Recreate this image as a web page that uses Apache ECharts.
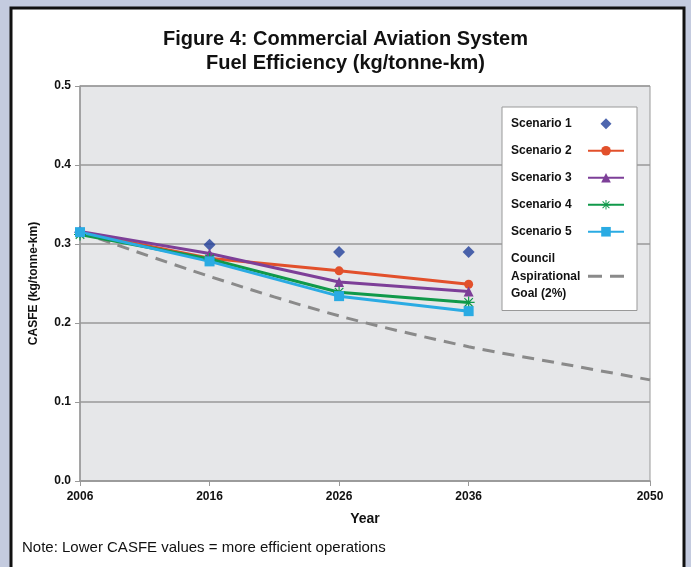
<!DOCTYPE html>
<html>
<head>
<meta charset="utf-8">
<script src="https://cdn.jsdelivr.net/npm/echarts@6/dist/echarts.min.js"></script>
<style>
  html, body { margin: 0; padding: 0; background: #c4cbdf; }
  #chart { width: 691px; height: 567px; }
</style>
</head>
<body>
<div id="chart"></div>
<script>
// values
const years = [2006, 2016, 2026, 2036]
const scenario1 = [0.315, 0.299, 0.290, 0.290]
const scenario2 = [0.315, 0.282, 0.266, 0.249]
const scenario3 = [0.316, 0.288, 0.252, 0.240]
const scenario4 = [0.312, 0.281, 0.239, 0.226]
const scenario5 = [0.315, 0.278, 0.234, 0.215]
const goalYears = [2006, 2016, 2026, 2036, 2043, 2050]
const goal = [0.315, 0.259, 0.209, 0.170, 0.149, 0.128]
const xTicks = [2006, 2016, 2026, 2036, 2050]

const narrow = '"Liberation Sans Narrow", "Arial Narrow", sans-serif'
const sans = '"Liberation Sans", Arial, sans-serif'
const asterisk = 'path://M9,0h2v20h-2z M0,9h20v2h-20z M2.2,3.6l1.4,-1.4l14.2,14.2l-1.4,1.4z M16.4,2.2l1.4,1.4l-14.2,14.2l-1.4,-1.4z'
// legend icons, tiny corner specks keep the 36x12 box so shapes are not stretched
const box = 'M0,0h0.01v0.01h-0.01z M35.99,11.99h0.01v0.01h-0.01z '
const diamondIcon = 'path://' + box + 'M18,0.5l5.5,5.5l-5.5,5.5l-5.5,-5.5z'
const dashIcon = 'path://' + box + 'M0,4.5h14v3h-14z M22,4.5h14v3h-14z'

const pairs = (xs, ys) => xs.map((x, i) => [x, ys[i]])

function lineSeries(name, data, color, symbol, size) {
  return {
    name,
    type: 'line',
    data: pairs(years, data),
    symbol,
    symbolSize: size,
    lineStyle: { color, width: 3 },
    itemStyle: { color },
    z: 3
  }
}

const chart = echarts.init(document.getElementById('chart'), null, { renderer: 'canvas' })

chart.setOption({
  backgroundColor: '#c4cbdf',
  animation: false,
  graphic: [
    {
      type: 'rect',
      shape: { x: 11, y: 8, width: 673, height: 600 },
      style: { fill: '#fff', stroke: '#111', lineWidth: 3 },
      z: -10
    },
    {
      type: 'text',
      left: 22,
      top: 540,
      style: { text: 'Note: Lower CASFE values = more efficient operations', font: '15px ' + narrow, fill: '#111' }
    }
  ],
  title: {
    text: 'Figure 4: Commercial Aviation System\nFuel Efficiency (kg/tonne-km)',
    left: 'center',
    top: 22,
    textStyle: { fontFamily: narrow, fontWeight: 'bold', fontSize: 20, lineHeight: 24, color: '#111' }
  },
  grid: { left: 80, right: 41, top: 86, bottom: 86, show: true, backgroundColor: '#e6e7e9', borderColor: '#999', borderWidth: 1 },
  legend: {
    orient: 'vertical',
    left: 502,
    top: 107,
    align: 'right',
    padding: [8, 12, 8, 9],
    backgroundColor: '#fff',
    borderColor: '#999',
    borderWidth: 1,
    itemWidth: 36,
    itemHeight: 12,
    itemGap: 9.5,
    formatter: name => name.split('\n').map(s => '{t|' + s + '}').join('\n'),
    textStyle: {
      fontFamily: sans, fontWeight: 'bold', fontSize: 12, color: '#111', lineHeight: 17.5,
      rich: { t: { width: 72, align: 'left', fontFamily: sans, fontWeight: 'bold', fontSize: 12, color: '#111', lineHeight: 17.5 } }
    },
    data: [
      { name: 'Scenario 1', icon: diamondIcon },
      'Scenario 2',
      'Scenario 3',
      'Scenario 4',
      'Scenario 5',
      { name: 'Council\nAspirational\nGoal (2%)', icon: dashIcon }
    ]
  },
  xAxis: {
    type: 'value',
    min: 2006,
    max: 2050,
    name: 'Year',
    nameLocation: 'middle',
    nameGap: 31,
    nameTextStyle: { fontFamily: narrow, fontWeight: 'bold', fontSize: 14, color: '#111' },
    axisLine: { lineStyle: { color: '#999', width: 1.5 } },
    axisTick: { show: true, length: 5, customValues: xTicks, lineStyle: { color: '#999' } },
    axisLabel: { customValues: xTicks, formatter: v => String(v), fontFamily: sans, fontWeight: 'bold', fontSize: 12, color: '#111', margin: 10 },
    splitLine: { show: false }
  },
  yAxis: {
    type: 'value',
    min: 0,
    max: 0.5,
    interval: 0.1,
    name: 'CASFE (kg/tonne-km)',
    nameLocation: 'middle',
    nameGap: 40,
    nameTextStyle: { fontFamily: sans, fontWeight: 'bold', fontSize: 12, color: '#111' },
    axisLine: { show: true, lineStyle: { color: '#999', width: 1.5 } },
    axisTick: { show: true, length: 5, lineStyle: { color: '#999' } },
    axisLabel: { formatter: v => v.toFixed(1), fontFamily: sans, fontWeight: 'bold', fontSize: 12, color: '#111', margin: 9 },
    splitLine: { lineStyle: { color: '#999', width: 1.5 } }
  },
  series: [
    {
      name: 'Council\nAspirational\nGoal (2%)',
      type: 'line',
      data: pairs(goalYears, goal),
      smooth: 0.3,
      showSymbol: false,
      symbol: 'none',
      lineStyle: { color: '#8a8a8a', width: 3, type: [12, 8] },
      itemStyle: { color: '#8a8a8a' },
      z: 2
    },
    {
      name: 'Scenario 1',
      type: 'scatter',
      data: pairs(years, scenario1),
      symbol: 'diamond',
      symbolSize: 12,
      itemStyle: { color: '#22409a' },
      z: 2
    },
    lineSeries('Scenario 2', scenario2, '#e2502b', 'circle', 9),
    lineSeries('Scenario 3', scenario3, '#7d3f98', 'triangle', 10),
    lineSeries('Scenario 4', scenario4, '#10994a', asterisk, 12),
    lineSeries('Scenario 5', scenario5, '#2aabe3', 'rect', 10)
  ]
})
</script>
</body>
</html>
